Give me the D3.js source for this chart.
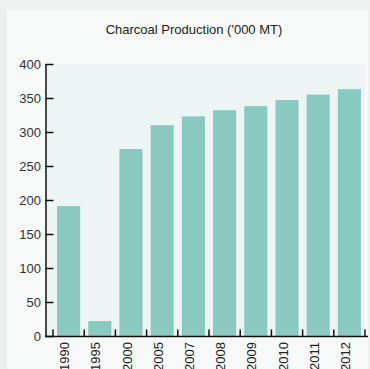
<!DOCTYPE html>
<html><head><meta charset="utf-8">
<script src="https://cdn.jsdelivr.net/npm/d3@7"></script>
<style>
html,body{margin:0;padding:0;background:#eef0ef;}
svg{display:block;}
text{font-family:"Liberation Sans",Arial,sans-serif;}
</style></head>
<body>
<script>
const years = ["1990","1995","2000","2005","2007","2008","2009","2010","2011","2012"];
const production = [191, 22, 275, 310, 323, 332, 338, 347, 355, 363];
const yTicks = [0,50,100,150,200,250,300,350,400];
const title = "Charcoal Production ('000 MT)";

const W = 370, H = 369;
const svg = d3.select("body").append("svg").attr("width", W).attr("height", H);
svg.append("rect").attr("x",0).attr("y",0).attr("width",W).attr("height",H).attr("fill","#eef0ef");
svg.append("rect").attr("x",7).attr("y",10).attr("width",361).attr("height",H-10).attr("fill","#f6f9f8");

const x = d3.scaleBand().domain(years).range([53, 365]).paddingInner(0.26).paddingOuter(0.13);
const y = d3.scaleLinear().domain([0, 400]).range([336, 64]);

svg.append("rect").attr("x",46).attr("y",y(400)).attr("width",365-46).attr("height",y(0)-y(400)).attr("fill","#ecf5f3");

svg.append("text").attr("x",194).attr("y",34).attr("text-anchor","middle")
  .attr("font-size",13).attr("fill","#222").text(title);

svg.selectAll("rect.bar").data(years).enter().append("rect").attr("class","bar")
  .attr("x", d => x(d)).attr("width", x.bandwidth())
  .attr("y", (d,i) => y(production[i])).attr("height", (d,i) => y(0) - y(production[i]))
  .attr("fill","#8ac9bf");

// y axis
const yAxis = svg.append("g").attr("transform","translate(45.5,0)")
  .call(d3.axisRight(y).tickValues(yTicks).tickSize(8).tickFormat(""));
yAxis.select(".domain").attr("stroke","#111").attr("stroke-width",1.5).attr("d","M0.5,"+y(400)+"V"+y(0));
yAxis.selectAll(".tick line").attr("stroke","#111").attr("stroke-width",1.5);
svg.selectAll("text.ylab").data(yTicks).enter().append("text").attr("class","ylab")
  .attr("x",41).attr("y", d => y(d)).attr("dy","0.35em").attr("text-anchor","end")
  .attr("font-size",13).attr("fill","#333").text(d => d);

// x axis
const step = x.step();
const tickPos = years.map(d => x(d) - x.bandwidth()*0 - (step - x.bandwidth())/2).concat([365]);
const xa = svg.append("g");
xa.append("line").attr("x1",45).attr("x2",368).attr("y1",336.5).attr("y2",336.5).attr("stroke","#111").attr("stroke-width",1.5);
xa.selectAll("line.t").data(tickPos).enter().append("line").attr("class","t")
  .attr("x1", d => d).attr("x2", d => d).attr("y1",336.5).attr("y2",329.5)
  .attr("stroke","#111").attr("stroke-width",1.5);
svg.selectAll("text.xlab").data(years).enter().append("text").attr("class","xlab")
  .attr("transform", d => "translate(" + (x(d) + x.bandwidth()/2 + 0.5) + ",342) rotate(-90)")
  .attr("text-anchor","end").attr("font-size",13).attr("fill","#222").text(d => d);
</script>
</body></html>
